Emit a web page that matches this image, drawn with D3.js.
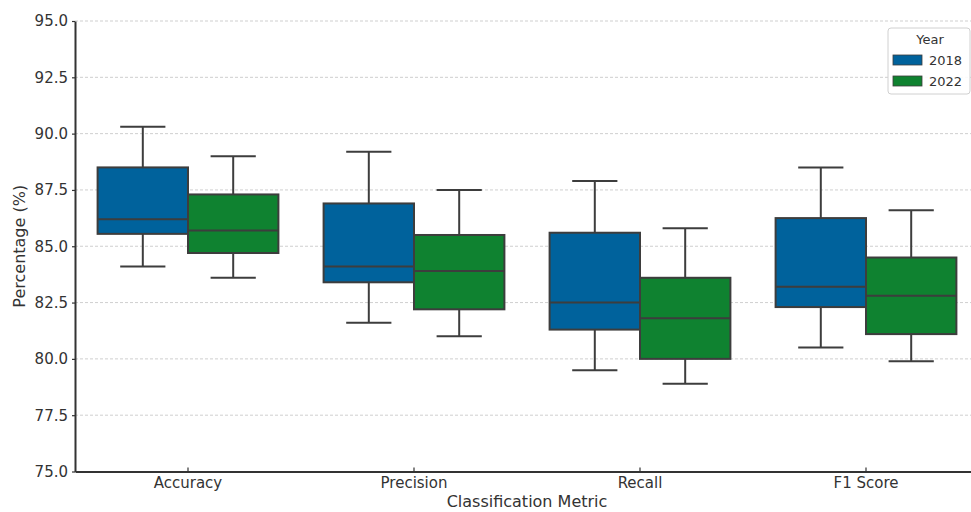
<!DOCTYPE html>
<html>
<head>
<meta charset="utf-8">
<script src="https://cdn.jsdelivr.net/npm/d3@7"></script>
<style>
  body { margin: 0; background: #fff; }
  text { font-family: "DejaVu Sans", sans-serif; fill: #333; }
</style>
</head>
<body>
<div id="chart"></div>
<script>
const metrics = ["Accuracy", "Precision", "Recall", "F1 Score"];
const years = ["2018", "2022"];
const yTicks = [75, 77.5, 80, 82.5, 85, 87.5, 90, 92.5, 95];

// [lower whisker, q1, median, q3, upper whisker] per metric
const stats2018 = [
  [84.1, 85.55, 86.2, 88.5, 90.3],
  [81.6, 83.4, 84.1, 86.9, 89.2],
  [79.5, 81.3, 82.5, 85.6, 87.9],
  [80.5, 82.3, 83.2, 86.25, 88.5]
];
const stats2022 = [
  [83.6, 84.7, 85.7, 87.3, 89.0],
  [81.0, 82.2, 83.9, 85.5, 87.5],
  [78.9, 80.0, 81.8, 83.6, 85.8],
  [79.9, 81.1, 82.8, 84.5, 86.6]
];
const colors = { "2018": "#00629c", "2022": "#0f8230" };

const WIDTH = 971, HEIGHT = 512;
const MARGIN = { LEFT: 75, TOP: 21, BOTTOM: 40 };

const svg = d3.select("#chart").append("svg")
  .attr("width", WIDTH)
  .attr("height", HEIGHT);

// Scales
const x = d3.scaleBand().domain(metrics).range([MARGIN.LEFT, MARGIN.LEFT + 904]).padding(0);
const xYear = d3.scaleBand().domain(years).range([0, x.bandwidth()])
  .paddingInner(0).paddingOuter(0.25);
const y = d3.scaleLinear().domain([75, 95]).range([HEIGHT - MARGIN.BOTTOM - 0.5, MARGIN.TOP]);

// Grid
svg.append("g").selectAll("line")
  .data(yTicks)
  .enter().append("line")
  .attr("x1", MARGIN.LEFT)
  .attr("x2", WIDTH)
  .attr("y1", d => y(d))
  .attr("y2", d => y(d))
  .attr("stroke", "#cfcfcf")
  .attr("stroke-width", 1)
  .attr("stroke-dasharray", "3,2");

// Flatten the data
const boxes = [];
metrics.forEach((m, i) => {
  boxes.push({ metric: m, year: "2018", s: stats2018[i] });
  boxes.push({ metric: m, year: "2022", s: stats2022[i] });
});

const edge = "#3d3d3d";
const bg = svg.append("g").selectAll("g")
  .data(boxes)
  .enter().append("g")
  .attr("transform", d => `translate(${x(d.metric) + xYear(d.year)},0)`);

const bw = xYear.bandwidth();

// whiskers
bg.append("line")
  .attr("x1", bw / 2).attr("x2", bw / 2)
  .attr("y1", d => y(d.s[0])).attr("y2", d => y(d.s[1]))
  .attr("stroke", edge).attr("stroke-width", 2);
bg.append("line")
  .attr("x1", bw / 2).attr("x2", bw / 2)
  .attr("y1", d => y(d.s[3])).attr("y2", d => y(d.s[4]))
  .attr("stroke", edge).attr("stroke-width", 2);
// caps
bg.append("line")
  .attr("x1", bw / 4).attr("x2", bw * 3 / 4)
  .attr("y1", d => y(d.s[0])).attr("y2", d => y(d.s[0]))
  .attr("stroke", edge).attr("stroke-width", 2);
bg.append("line")
  .attr("x1", bw / 4).attr("x2", bw * 3 / 4)
  .attr("y1", d => y(d.s[4])).attr("y2", d => y(d.s[4]))
  .attr("stroke", edge).attr("stroke-width", 2);
// box
bg.append("rect")
  .attr("x", 0)
  .attr("width", bw)
  .attr("y", d => y(d.s[3]))
  .attr("height", d => y(d.s[1]) - y(d.s[3]))
  .attr("fill", d => colors[d.year])
  .attr("stroke", edge)
  .attr("stroke-width", 2);
// median
bg.append("line")
  .attr("x1", 0).attr("x2", bw)
  .attr("y1", d => y(d.s[2])).attr("y2", d => y(d.s[2]))
  .attr("stroke", edge).attr("stroke-width", 2);

// Axes
const xAxis = svg.append("g")
  .attr("transform", `translate(0, ${y(75)})`)
  .call(d3.axisBottom(x).tickSizeInner(-4).tickSizeOuter(0).tickPadding(6));
const yAxis = svg.append("g")
  .attr("transform", `translate(${MARGIN.LEFT}, 0)`)
  .call(d3.axisLeft(y).tickValues(yTicks).tickFormat(d3.format(".1f"))
    .tickSizeInner(3).tickSizeOuter(0).tickPadding(4));

[xAxis, yAxis].forEach(a => {
  a.select(".domain").attr("stroke", "#333").attr("stroke-width", 2);
  a.selectAll(".tick line").attr("stroke", "#333").attr("stroke-width", 1.2);
  a.selectAll(".tick text")
    .attr("font-family", "DejaVu Sans, sans-serif")
    .attr("font-size", "15px")
    .attr("fill", "#333");
});

// Labels
svg.append("text")
  .attr("x", MARGIN.LEFT + 452)
  .attr("y", 507)
  .attr("font-size", "16px")
  .attr("text-anchor", "middle")
  .text("Classification Metric");

svg.append("text")
  .attr("x", -(y(85)))
  .attr("y", 25)
  .attr("font-size", "16px")
  .attr("text-anchor", "middle")
  .attr("transform", "rotate(-90)")
  .text("Percentage (%)");

// Legend
const lg = svg.append("g").attr("transform", "translate(888, 28)");
lg.append("rect")
  .attr("width", 82).attr("height", 66)
  .attr("rx", 3)
  .attr("fill", "#fff").attr("fill-opacity", 0.9)
  .attr("stroke", "#d0d0d0");
lg.append("text")
  .attr("x", 42).attr("y", 16)
  .attr("text-anchor", "middle")
  .attr("font-size", "13px")
  .text("Year");
const items = lg.selectAll(".item")
  .data(years)
  .enter().append("g")
  .attr("class", "item")
  .attr("transform", (d, i) => `translate(5, ${27 + i * 21})`);
items.append("rect")
  .attr("width", 29).attr("height", 10)
  .attr("fill", d => colors[d])
  .attr("stroke", edge).attr("stroke-width", 0.8);
items.append("text")
  .attr("x", 36).attr("y", 10)
  .attr("font-size", "13px")
  .text(d => d);
</script>
</body>
</html>
